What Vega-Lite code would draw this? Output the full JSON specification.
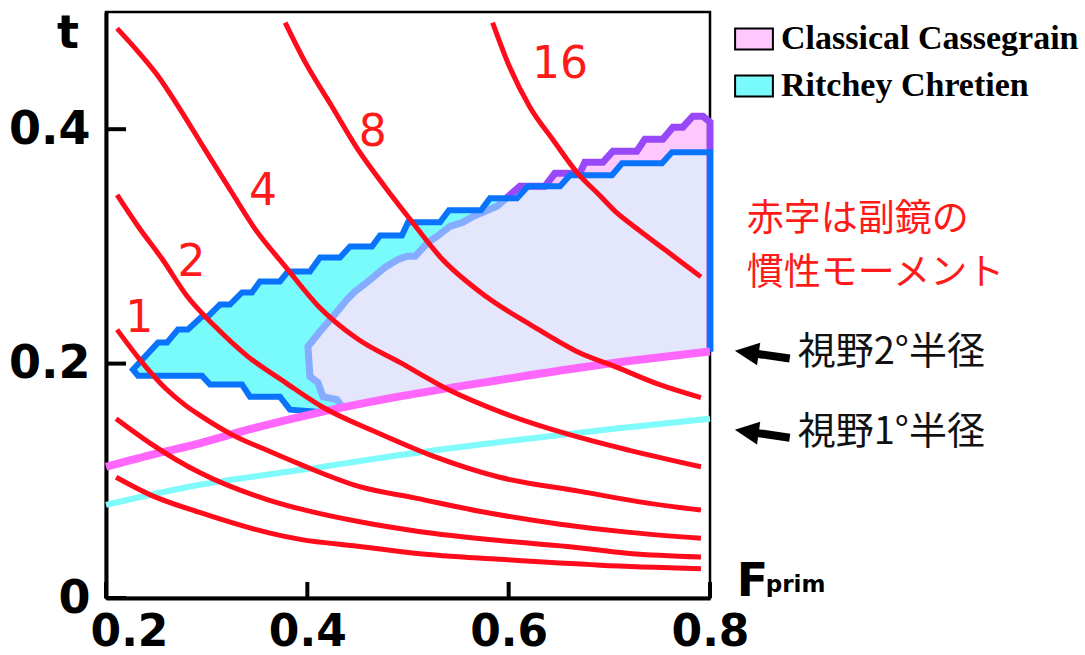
{
  "$schema": "https://vega.github.io/schema/vega-lite/v6.json",
  "width": 604,
  "height": 586,
  "autosize": {"type": "none"},
  "padding": {"left": 106, "top": 12, "right": 375, "bottom": 57},
  "background": "white",
  "config": {"view": {"stroke": "black", "strokeWidth": 2.5}},
  "datasets": {
    "poly": [
      {"type": "Ritchey Chretien", "i": 1, "F": 0.2268, "t": 0.1949, "o": 9},
      {"type": "Ritchey Chretien", "i": 2, "F": 0.2517, "t": 0.2179, "o": 10},
      {"type": "Ritchey Chretien", "i": 3, "F": 0.2606, "t": 0.2179, "o": 11},
      {"type": "Ritchey Chretien", "i": 4, "F": 0.2715, "t": 0.2291, "o": 12},
      {"type": "Ritchey Chretien", "i": 5, "F": 0.2814, "t": 0.2291, "o": 13},
      {"type": "Ritchey Chretien", "i": 6, "F": 0.2953, "t": 0.2402, "o": 14},
      {"type": "Ritchey Chretien", "i": 7, "F": 0.3013, "t": 0.2402, "o": 15},
      {"type": "Ritchey Chretien", "i": 8, "F": 0.3132, "t": 0.2504, "o": 16},
      {"type": "Ritchey Chretien", "i": 9, "F": 0.3231, "t": 0.2504, "o": 17},
      {"type": "Ritchey Chretien", "i": 10, "F": 0.3351, "t": 0.2607, "o": 18},
      {"type": "Ritchey Chretien", "i": 11, "F": 0.3450, "t": 0.2607, "o": 19},
      {"type": "Ritchey Chretien", "i": 12, "F": 0.3529, "t": 0.2701, "o": 20},
      {"type": "Ritchey Chretien", "i": 13, "F": 0.3728, "t": 0.2701, "o": 21},
      {"type": "Ritchey Chretien", "i": 14, "F": 0.3807, "t": 0.2786, "o": 22},
      {"type": "Ritchey Chretien", "i": 15, "F": 0.4026, "t": 0.2786, "o": 23},
      {"type": "Ritchey Chretien", "i": 16, "F": 0.4126, "t": 0.2906, "o": 24},
      {"type": "Ritchey Chretien", "i": 17, "F": 0.4324, "t": 0.2906, "o": 25},
      {"type": "Ritchey Chretien", "i": 18, "F": 0.4424, "t": 0.3000, "o": 26},
      {"type": "Ritchey Chretien", "i": 19, "F": 0.4642, "t": 0.3000, "o": 27},
      {"type": "Ritchey Chretien", "i": 20, "F": 0.4722, "t": 0.3094, "o": 28},
      {"type": "Ritchey Chretien", "i": 21, "F": 0.4940, "t": 0.3094, "o": 29},
      {"type": "Ritchey Chretien", "i": 22, "F": 0.5000, "t": 0.3205, "o": 30},
      {"type": "Ritchey Chretien", "i": 23, "F": 0.5318, "t": 0.3205, "o": 31},
      {"type": "Ritchey Chretien", "i": 24, "F": 0.5407, "t": 0.3308, "o": 32},
      {"type": "Ritchey Chretien", "i": 25, "F": 0.5725, "t": 0.3308, "o": 33},
      {"type": "Ritchey Chretien", "i": 26, "F": 0.5814, "t": 0.3410, "o": 34},
      {"type": "Ritchey Chretien", "i": 27, "F": 0.6083, "t": 0.3410, "o": 35},
      {"type": "Ritchey Chretien", "i": 28, "F": 0.6192, "t": 0.3513, "o": 36},
      {"type": "Ritchey Chretien", "i": 29, "F": 0.6510, "t": 0.3513, "o": 37},
      {"type": "Ritchey Chretien", "i": 30, "F": 0.6609, "t": 0.3607, "o": 38},
      {"type": "Ritchey Chretien", "i": 31, "F": 0.7026, "t": 0.3607, "o": 39},
      {"type": "Ritchey Chretien", "i": 32, "F": 0.7126, "t": 0.3709, "o": 40},
      {"type": "Ritchey Chretien", "i": 33, "F": 0.7523, "t": 0.3709, "o": 41},
      {"type": "Ritchey Chretien", "i": 34, "F": 0.7622, "t": 0.3803, "o": 42},
      {"type": "Ritchey Chretien", "i": 35, "F": 0.8000, "t": 0.3803, "o": 43},
      {"type": "Ritchey Chretien", "i": 36, "F": 0.8000, "t": 0.2103, "o": 44},
      {"type": "Ritchey Chretien", "i": 37, "F": 0.691, "t": 0.199},
      {"type": "Ritchey Chretien", "i": 38, "F": 0.591, "t": 0.186},
      {"type": "Ritchey Chretien", "i": 39, "F": 0.492, "t": 0.172},
      {"type": "Ritchey Chretien", "i": 40, "F": 0.4096, "t": 0.1590, "o": 1},
      {"type": "Ritchey Chretien", "i": 41, "F": 0.3827, "t": 0.1607, "o": 2},
      {"type": "Ritchey Chretien", "i": 42, "F": 0.3728, "t": 0.1718, "o": 3},
      {"type": "Ritchey Chretien", "i": 43, "F": 0.3430, "t": 0.1718, "o": 4},
      {"type": "Ritchey Chretien", "i": 44, "F": 0.3351, "t": 0.1821, "o": 5},
      {"type": "Ritchey Chretien", "i": 45, "F": 0.3033, "t": 0.1821, "o": 6},
      {"type": "Ritchey Chretien", "i": 46, "F": 0.2953, "t": 0.1897, "o": 7},
      {"type": "Ritchey Chretien", "i": 47, "F": 0.2318, "t": 0.1897, "o": 8},
      {"type": "Classical Cassegrain", "i": 1, "F": 0.4354, "t": 0.1623, "a": 1},
      {"type": "Classical Cassegrain", "i": 2, "F": 0.4295, "t": 0.1692, "a": 2},
      {"type": "Classical Cassegrain", "i": 3, "F": 0.4155, "t": 0.1718, "a": 3},
      {"type": "Classical Cassegrain", "i": 4, "F": 0.4106, "t": 0.1838, "a": 4},
      {"type": "Classical Cassegrain", "i": 5, "F": 0.4026, "t": 0.1889, "a": 5},
      {"type": "Classical Cassegrain", "i": 6, "F": 0.4006, "t": 0.2145, "a": 6},
      {"type": "Classical Cassegrain", "i": 7, "F": 0.4126, "t": 0.2274, "a": 7},
      {"type": "Classical Cassegrain", "i": 8, "F": 0.4255, "t": 0.2402, "a": 8},
      {"type": "Classical Cassegrain", "i": 9, "F": 0.4394, "t": 0.2547, "a": 9},
      {"type": "Classical Cassegrain", "i": 10, "F": 0.4473, "t": 0.2615, "a": 10},
      {"type": "Classical Cassegrain", "i": 11, "F": 0.4603, "t": 0.2701, "a": 11},
      {"type": "Classical Cassegrain", "i": 12, "F": 0.4772, "t": 0.2821, "a": 12},
      {"type": "Classical Cassegrain", "i": 13, "F": 0.4901, "t": 0.2889, "a": 13},
      {"type": "Classical Cassegrain", "i": 14, "F": 0.4990, "t": 0.2915, "a": 14},
      {"type": "Classical Cassegrain", "i": 15, "F": 0.5070, "t": 0.2915, "a": 15},
      {"type": "Classical Cassegrain", "i": 16, "F": 0.5199, "t": 0.3034, "a": 16},
      {"type": "Classical Cassegrain", "i": 17, "F": 0.5288, "t": 0.3085, "a": 17},
      {"type": "Classical Cassegrain", "i": 18, "F": 0.5417, "t": 0.3171, "a": 18},
      {"type": "Classical Cassegrain", "i": 19, "F": 0.5546, "t": 0.3205, "a": 19},
      {"type": "Classical Cassegrain", "i": 20, "F": 0.5645, "t": 0.3256, "a": 20},
      {"type": "Classical Cassegrain", "i": 21, "F": 0.5744, "t": 0.3291, "a": 21},
      {"type": "Classical Cassegrain", "i": 22, "F": 0.5884, "t": 0.3342, "a": 22},
      {"type": "Classical Cassegrain", "i": 23, "F": 0.5963, "t": 0.3402, "a": 23, "b": 1},
      {"type": "Classical Cassegrain", "i": 24, "F": 0.6112, "t": 0.3513, "b": 2},
      {"type": "Classical Cassegrain", "i": 25, "F": 0.6360, "t": 0.3513, "b": 3},
      {"type": "Classical Cassegrain", "i": 26, "F": 0.6459, "t": 0.3624, "b": 4},
      {"type": "Classical Cassegrain", "i": 27, "F": 0.6707, "t": 0.3624, "b": 5},
      {"type": "Classical Cassegrain", "i": 28, "F": 0.6757, "t": 0.3718, "b": 6},
      {"type": "Classical Cassegrain", "i": 29, "F": 0.6936, "t": 0.3718, "b": 7},
      {"type": "Classical Cassegrain", "i": 30, "F": 0.7035, "t": 0.3812, "b": 8},
      {"type": "Classical Cassegrain", "i": 31, "F": 0.7273, "t": 0.3812, "b": 9},
      {"type": "Classical Cassegrain", "i": 32, "F": 0.7353, "t": 0.3915, "b": 10},
      {"type": "Classical Cassegrain", "i": 33, "F": 0.7531, "t": 0.3915, "b": 11},
      {"type": "Classical Cassegrain", "i": 34, "F": 0.7631, "t": 0.4017, "b": 12},
      {"type": "Classical Cassegrain", "i": 35, "F": 0.7730, "t": 0.4017, "b": 13},
      {"type": "Classical Cassegrain", "i": 36, "F": 0.7829, "t": 0.4111, "b": 14},
      {"type": "Classical Cassegrain", "i": 37, "F": 0.7929, "t": 0.4111, "b": 15},
      {"type": "Classical Cassegrain", "i": 38, "F": 0.8000, "t": 0.4060, "b": 16},
      {"type": "Classical Cassegrain", "i": 39, "F": 0.8000, "t": 0.2103, "b": 17},
      {"type": "Classical Cassegrain", "i": 40, "F": 0.691, "t": 0.199},
      {"type": "Classical Cassegrain", "i": 41, "F": 0.591, "t": 0.186},
      {"type": "Classical Cassegrain", "i": 42, "F": 0.492, "t": 0.172}
    ],
    "ov": [
      {"j": 1, "F": 0.4354, "t": 0.1623},
      {"j": 2, "F": 0.4295, "t": 0.1692},
      {"j": 3, "F": 0.4155, "t": 0.1718},
      {"j": 4, "F": 0.4106, "t": 0.1838},
      {"j": 5, "F": 0.4026, "t": 0.1889},
      {"j": 6, "F": 0.4006, "t": 0.2145},
      {"j": 7, "F": 0.4126, "t": 0.2274},
      {"j": 8, "F": 0.4255, "t": 0.2402},
      {"j": 9, "F": 0.4394, "t": 0.2547},
      {"j": 10, "F": 0.4473, "t": 0.2615},
      {"j": 11, "F": 0.4603, "t": 0.2701},
      {"j": 12, "F": 0.4772, "t": 0.2821},
      {"j": 13, "F": 0.4901, "t": 0.2889},
      {"j": 14, "F": 0.4990, "t": 0.2915},
      {"j": 15, "F": 0.5070, "t": 0.2915},
      {"j": 16, "F": 0.5199, "t": 0.3034},
      {"j": 17, "F": 0.5288, "t": 0.3085},
      {"j": 18, "F": 0.5417, "t": 0.3171},
      {"j": 19, "F": 0.5546, "t": 0.3205},
      {"j": 20, "F": 0.5645, "t": 0.3256},
      {"j": 21, "F": 0.5744, "t": 0.3291},
      {"j": 22, "F": 0.5884, "t": 0.3342},
      {"j": 23, "F": 0.5963, "t": 0.3402},
      {"j": 24, "F": 0.6083, "t": 0.3410},
      {"j": 25, "F": 0.6192, "t": 0.3513},
      {"j": 26, "F": 0.6510, "t": 0.3513},
      {"j": 27, "F": 0.6609, "t": 0.3607},
      {"j": 28, "F": 0.7026, "t": 0.3607},
      {"j": 29, "F": 0.7126, "t": 0.3709},
      {"j": 30, "F": 0.7523, "t": 0.3709},
      {"j": 31, "F": 0.7622, "t": 0.3803},
      {"j": 32, "F": 0.8000, "t": 0.3803},
      {"j": 33, "F": 0.8000, "t": 0.2103},
      {"j": 34, "F": 0.691, "t": 0.199},
      {"j": 35, "F": 0.591, "t": 0.186},
      {"j": 36, "F": 0.492, "t": 0.172}
    ],
    "fov": [
      {"k": 2, "F": 0.2, "t": 0.112},
      {"k": 2, "F": 0.244, "t": 0.122},
      {"k": 2, "F": 0.293, "t": 0.132},
      {"k": 2, "F": 0.343, "t": 0.144},
      {"k": 2, "F": 0.410, "t": 0.158},
      {"k": 2, "F": 0.492, "t": 0.172},
      {"k": 2, "F": 0.591, "t": 0.186},
      {"k": 2, "F": 0.691, "t": 0.199},
      {"k": 2, "F": 0.800, "t": 0.2103},
      {"k": 1, "F": 0.2, "t": 0.0795},
      {"k": 1, "F": 0.293, "t": 0.0966},
      {"k": 1, "F": 0.4, "t": 0.110},
      {"k": 1, "F": 0.492, "t": 0.122},
      {"k": 1, "F": 0.6, "t": 0.134},
      {"k": 1, "F": 0.7, "t": 0.144},
      {"k": 1, "F": 0.8, "t": 0.153}
    ],
    "curves": [
      {"m": 16, "F": 0.584, "t": 0.491}, {"m": 16, "F": 0.601, "t": 0.453}, {"m": 16, "F": 0.621, "t": 0.419},
      {"m": 16, "F": 0.644, "t": 0.391}, {"m": 16, "F": 0.668, "t": 0.363}, {"m": 16, "F": 0.691, "t": 0.343},
      {"m": 16, "F": 0.707, "t": 0.329}, {"m": 16, "F": 0.723, "t": 0.318}, {"m": 16, "F": 0.740, "t": 0.307},
      {"m": 16, "F": 0.757, "t": 0.296}, {"m": 16, "F": 0.791, "t": 0.274},
      {"m": 8, "F": 0.378, "t": 0.491}, {"m": 8, "F": 0.398, "t": 0.457}, {"m": 8, "F": 0.424, "t": 0.420},
      {"m": 8, "F": 0.450, "t": 0.383}, {"m": 8, "F": 0.477, "t": 0.351}, {"m": 8, "F": 0.504, "t": 0.321},
      {"m": 8, "F": 0.532, "t": 0.291}, {"m": 8, "F": 0.578, "t": 0.257}, {"m": 8, "F": 0.624, "t": 0.232},
      {"m": 8, "F": 0.671, "t": 0.209}, {"m": 8, "F": 0.707, "t": 0.197}, {"m": 8, "F": 0.750, "t": 0.182},
      {"m": 8, "F": 0.791, "t": 0.171},
      {"m": 4, "F": 0.211, "t": 0.486}, {"m": 4, "F": 0.232, "t": 0.466}, {"m": 4, "F": 0.252, "t": 0.445},
      {"m": 4, "F": 0.275, "t": 0.415}, {"m": 4, "F": 0.298, "t": 0.383}, {"m": 4, "F": 0.325, "t": 0.346},
      {"m": 4, "F": 0.348, "t": 0.315}, {"m": 4, "F": 0.378, "t": 0.283}, {"m": 4, "F": 0.411, "t": 0.249},
      {"m": 4, "F": 0.450, "t": 0.221}, {"m": 4, "F": 0.492, "t": 0.201}, {"m": 4, "F": 0.542, "t": 0.177},
      {"m": 4, "F": 0.591, "t": 0.159}, {"m": 4, "F": 0.658, "t": 0.140}, {"m": 4, "F": 0.720, "t": 0.126},
      {"m": 4, "F": 0.791, "t": 0.112},
      {"m": 2, "F": 0.211, "t": 0.344}, {"m": 2, "F": 0.232, "t": 0.317}, {"m": 2, "F": 0.256, "t": 0.289},
      {"m": 2, "F": 0.281, "t": 0.257}, {"m": 2, "F": 0.308, "t": 0.232}, {"m": 2, "F": 0.341, "t": 0.206},
      {"m": 2, "F": 0.378, "t": 0.184}, {"m": 2, "F": 0.415, "t": 0.163}, {"m": 2, "F": 0.467, "t": 0.142},
      {"m": 2, "F": 0.525, "t": 0.121}, {"m": 2, "F": 0.591, "t": 0.103}, {"m": 2, "F": 0.671, "t": 0.091},
      {"m": 2, "F": 0.730, "t": 0.082}, {"m": 2, "F": 0.791, "t": 0.075},
      {"m": 1, "F": 0.211, "t": 0.229}, {"m": 1, "F": 0.234, "t": 0.203}, {"m": 1, "F": 0.259, "t": 0.179},
      {"m": 1, "F": 0.278, "t": 0.165}, {"m": 1, "F": 0.293, "t": 0.156}, {"m": 1, "F": 0.326, "t": 0.139},
      {"m": 1, "F": 0.360, "t": 0.126}, {"m": 1, "F": 0.393, "t": 0.114}, {"m": 1, "F": 0.452, "t": 0.095},
      {"m": 1, "F": 0.509, "t": 0.085}, {"m": 1, "F": 0.571, "t": 0.074}, {"m": 1, "F": 0.651, "t": 0.063},
      {"m": 1, "F": 0.720, "t": 0.056}, {"m": 1, "F": 0.791, "t": 0.051},
      {"m": 0.5, "F": 0.210, "t": 0.153}, {"m": 0.5, "F": 0.244, "t": 0.132}, {"m": 0.5, "F": 0.293, "t": 0.107},
      {"m": 0.5, "F": 0.360, "t": 0.084}, {"m": 0.5, "F": 0.393, "t": 0.076}, {"m": 0.5, "F": 0.452, "t": 0.065},
      {"m": 0.5, "F": 0.509, "t": 0.057}, {"m": 0.5, "F": 0.591, "t": 0.049}, {"m": 0.5, "F": 0.658, "t": 0.044},
      {"m": 0.5, "F": 0.720, "t": 0.038}, {"m": 0.5, "F": 0.791, "t": 0.035},
      {"m": 0.25, "F": 0.210, "t": 0.103}, {"m": 0.25, "F": 0.244, "t": 0.088}, {"m": 0.25, "F": 0.293, "t": 0.073},
      {"m": 0.25, "F": 0.360, "t": 0.056}, {"m": 0.25, "F": 0.393, "t": 0.050}, {"m": 0.25, "F": 0.452, "t": 0.044},
      {"m": 0.25, "F": 0.509, "t": 0.038}, {"m": 0.25, "F": 0.591, "t": 0.033}, {"m": 0.25, "F": 0.691, "t": 0.028},
      {"m": 0.25, "F": 0.791, "t": 0.025}
    ],
    "mlabels": [
      {"F": 0.651, "t": 0.455, "label": "16"},
      {"F": 0.465, "t": 0.397, "label": "8"},
      {"F": 0.356, "t": 0.346, "label": "4"},
      {"F": 0.285, "t": 0.286, "label": "2"},
      {"F": 0.233, "t": 0.238, "label": "1"}
    ],
    "rednote": [
      {"F": 0.8366, "t": 0.3226, "label": "赤字は副鏡の\n慣性モーメント"}
    ],
    "fovnote": [
      {"F": 0.8872, "t": 0.2094, "label": "視野2°半径"},
      {"F": 0.8872, "t": 0.141, "label": "視野1°半径"}
    ],
    "arrows": [
      {"F": 0.8365, "t": 0.2096, "F2": 0.8792, "t2": 0.2043},
      {"F": 0.8365, "t": 0.1421, "F2": 0.8792, "t2": 0.1368}
    ],
    "heads": [
      {"F": 0.8365, "t": 0.2096},
      {"F": 0.8365, "t": 0.1421}
    ],
    "yticks": [
      {"F": 0.2, "t": 0, "F2": 0.2199},
      {"F": 0.2, "t": 0.2, "F2": 0.2199},
      {"F": 0.2, "t": 0.4, "F2": 0.2199}
    ],
    "xticks": [
      {"F": 0.2, "t": 0, "t2": 0.0137},
      {"F": 0.4, "t": 0, "t2": 0.0137},
      {"F": 0.6, "t": 0, "t2": 0.0137},
      {"F": 0.8, "t": 0, "t2": 0.0137}
    ],
    "bigtitles": [
      {"F": 0.1513, "t": 0.469, "label": "t"},
      {"F": 0.8266, "t": 0.0017, "label": "F"}
    ],
    "subtitle": [
      {"F": 0.8554, "t": 0.0051, "label": "prim"}
    ]
  },
  "encoding": {
    "x": {
      "field": "F", "type": "quantitative",
      "scale": {"domain": [0.2, 0.8], "nice": false, "zero": false},
      "axis": {
        "title": null, "values": [0.2, 0.4, 0.6, 0.8], "format": ".1f", "grid": false,
        "domainColor": "black", "domainWidth": 4, "ticks": false, "tickSize": 0,
        "labelPadding": 12, "labelFont": "DejaVu Sans", "labelFontWeight": "bold", "labelFontSize": 44,
        "labelColor": "black", "labelFlush": false, "labelOverlap": false, "labelBound": false,
        "labelOffset": {"condition": {"test": "datum.value < 0.3", "value": 23}, "value": 0}
      }
    },
    "y": {
      "field": "t", "type": "quantitative",
      "scale": {"domain": [0, 0.5], "nice": false, "zero": false},
      "axis": {
        "title": null, "values": [0, 0.2, 0.4], "labelExpr": "datum.value === 0 ? '0' : format(datum.value, '.1f')",
        "grid": false, "domainColor": "black", "domainWidth": 4, "ticks": false, "tickSize": 0,
        "labelPadding": 16, "labelFont": "DejaVu Sans", "labelFontWeight": "bold", "labelFontSize": 46,
        "labelColor": "black", "labelOverlap": false, "labelBound": false
      }
    }
  },
  "layer": [
    {
      "data": {"name": "poly"},
      "mark": {"type": "line", "filled": true, "strokeWidth": 0},
      "encoding": {
        "order": {"field": "i", "type": "quantitative"},
        "color": {
          "field": "type", "type": "nominal",
          "scale": {"domain": ["Classical Cassegrain", "Ritchey Chretien"], "range": ["#fec7fd", "#79fbfc"]},
          "legend": {
            "title": null, "orient": "none", "legendX": 631, "legendY": 10,
            "symbolType": "M-1.8,-1H1.8V1H-1.8Z", "symbolSize": 441,
            "symbolStrokeColor": "black", "symbolStrokeWidth": 2, "symbolOpacity": 1,
            "labelFont": "Liberation Serif", "labelFontWeight": "bold", "labelFontSize": 34, "labelLimit": 0,
            "labelColor": "black", "labelOffset": 10, "rowPadding": 13, "padding": 0
          }
        }
      }
    },
    {
      "data": {"name": "ov"},
      "mark": {"type": "line", "filled": true, "fill": "#e4e6fc", "strokeWidth": 0},
      "encoding": {"order": {"field": "j", "type": "quantitative"}}
    },
    {
      "data": {"name": "poly"},
      "transform": [{"filter": "isValid(datum.a)"}],
      "mark": {"type": "line", "color": "#85acfe", "strokeWidth": 7},
      "encoding": {"order": {"field": "a", "type": "quantitative"}}
    },
    {
      "data": {"name": "poly"},
      "transform": [{"filter": "isValid(datum.b)"}],
      "mark": {"type": "line", "color": "#9848f8", "strokeWidth": 7},
      "encoding": {"order": {"field": "b", "type": "quantitative"}}
    },
    {
      "data": {"name": "poly"},
      "transform": [{"filter": "isValid(datum.o)"}],
      "mark": {"type": "line", "color": "#0a73fb", "strokeWidth": 6},
      "encoding": {"order": {"field": "o", "type": "quantitative"}}
    },
    {
      "data": {"name": "fov"},
      "transform": [{"filter": "datum.k == 2"}],
      "mark": {"type": "line", "color": "#ff66fc", "strokeWidth": 8, "interpolate": "monotone"},
      "encoding": {}
    },
    {
      "data": {"name": "fov"},
      "transform": [{"filter": "datum.k == 1"}],
      "mark": {"type": "line", "color": "#7ffbfb", "strokeWidth": 6, "interpolate": "monotone"},
      "encoding": {}
    },
    {
      "data": {"name": "curves"},
      "mark": {"type": "line", "color": "#ff0b1c", "strokeWidth": 5, "interpolate": "monotone"},
      "encoding": {"detail": {"field": "m", "type": "nominal"}}
    },
    {
      "data": {"name": "yticks"},
      "mark": {"type": "rule", "color": "black", "strokeWidth": 4},
      "encoding": {"x2": {"field": "F2"}}
    },
    {
      "data": {"name": "xticks"},
      "mark": {"type": "rule", "color": "black", "strokeWidth": 4},
      "encoding": {"y2": {"field": "t2"}}
    },
    {
      "data": {"name": "mlabels"},
      "mark": {"type": "text", "font": "DejaVu Sans", "fontSize": 44, "color": "#ff1a1a", "align": "center", "baseline": "middle"},
      "encoding": {"text": {"field": "label"}}
    },
    {
      "data": {"name": "rednote"},
      "mark": {"type": "text", "font": "Noto Sans CJK JP", "fontSize": 37, "color": "#ff1a1a", "align": "left", "baseline": "middle", "lineBreak": "\n", "lineHeight": 54},
      "encoding": {"text": {"field": "label"}}
    },
    {
      "data": {"name": "fovnote"},
      "mark": {"type": "text", "font": "Noto Sans CJK JP", "fontSize": 38, "color": "#111111", "align": "left", "baseline": "middle"},
      "encoding": {"text": {"field": "label"}}
    },
    {
      "data": {"name": "arrows"},
      "mark": {"type": "rule", "color": "black", "strokeWidth": 8},
      "encoding": {"x2": {"field": "F2"}, "y2": {"field": "t2"}}
    },
    {
      "data": {"name": "heads"},
      "mark": {"type": "point", "shape": "M-1,0L1,-0.95L1,0.95Z", "filled": true, "color": "black", "opacity": 1, "size": 576, "angle": 8},
      "encoding": {}
    },
    {
      "data": {"name": "bigtitles"},
      "mark": {"type": "text", "font": "DejaVu Sans", "fontWeight": "bold", "fontSize": 46, "color": "black", "align": "left", "baseline": "alphabetic"},
      "encoding": {"text": {"field": "label"}}
    },
    {
      "data": {"name": "subtitle"},
      "mark": {"type": "text", "font": "DejaVu Sans", "fontWeight": "bold", "fontSize": 23, "color": "black", "align": "left", "baseline": "alphabetic"},
      "encoding": {"text": {"field": "label"}}
    }
  ]
}
